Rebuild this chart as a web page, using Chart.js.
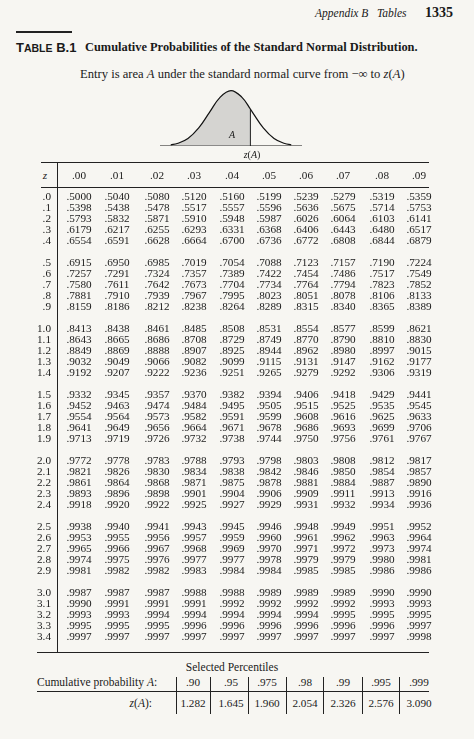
<!DOCTYPE html>
<html><head><meta charset="utf-8">
<script src="https://cdn.jsdelivr.net/npm/chart.js@4"></script>
<style>
body{margin:0;background:#f7f6f2;font-family:"Liberation Serif",serif;color:#1a1a1a;width:474px;height:739px;position:relative;overflow:hidden}
.t{position:absolute;white-space:nowrap;font-size:11.2px;line-height:13px}
.c{transform:translateX(-50%)}
.r{transform:translateX(-100%)}
.ln{position:absolute;background:#222}
#curve{position:absolute;left:160px;top:89px;width:142px;height:57px}
</style></head><body>
<div class="t" style="left:315px;top:7px;font-size:11.5px;font-style:italic">Appendix B &nbsp;&nbsp;Tables</div>
<div class="t" style="left:425px;top:6px;font-size:14px;font-weight:bold">1335</div>
<div class="ln" style="left:16px;top:31px;width:56px;height:2px"></div>
<div class="t" style="left:16px;top:41px;font-size:13px;font-weight:bold;font-family:'Liberation Sans',sans-serif">T<span style="font-size:10.5px">ABLE</span> B.1</div>
<div class="t" style="left:85px;top:41px;font-size:12.4px;font-weight:bold">Cumulative Probabilities of the Standard Normal Distribution.</div>
<div class="t" style="left:80px;top:68px;font-size:12.6px">Entry is area <i>A</i> under the standard normal curve from −∞ to <i>z</i>(<i>A</i>)</div>
<div id="curve"><canvas id="c"></canvas></div>
<div class="t c" style="left:232px;top:128px;font-size:10px;font-style:italic">A</div>
<div class="t c" style="left:252px;top:148px;font-size:10px"><i>z</i>(<i>A</i>)</div>
<div id="tbl"></div>
<script>
// standard normal table
const colLabels = ['.00','.01','.02','.03','.04','.05','.06','.07','.08','.09']
const zLabels = ['.0','.1','.2','.3','.4','.5','.6','.7','.8','.9','1.0','1.1','1.2','1.3','1.4','1.5','1.6','1.7','1.8','1.9','2.0','2.1','2.2','2.3','2.4','2.5','2.6','2.7','2.8','2.9','3.0','3.1','3.2','3.3','3.4']
const probRows = [
'5000 5040 5080 5120 5160 5199 5239 5279 5319 5359',
'5398 5438 5478 5517 5557 5596 5636 5675 5714 5753',
'5793 5832 5871 5910 5948 5987 6026 6064 6103 6141',
'6179 6217 6255 6293 6331 6368 6406 6443 6480 6517',
'6554 6591 6628 6664 6700 6736 6772 6808 6844 6879',
'6915 6950 6985 7019 7054 7088 7123 7157 7190 7224',
'7257 7291 7324 7357 7389 7422 7454 7486 7517 7549',
'7580 7611 7642 7673 7704 7734 7764 7794 7823 7852',
'7881 7910 7939 7967 7995 8023 8051 8078 8106 8133',
'8159 8186 8212 8238 8264 8289 8315 8340 8365 8389',
'8413 8438 8461 8485 8508 8531 8554 8577 8599 8621',
'8643 8665 8686 8708 8729 8749 8770 8790 8810 8830',
'8849 8869 8888 8907 8925 8944 8962 8980 8997 9015',
'9032 9049 9066 9082 9099 9115 9131 9147 9162 9177',
'9192 9207 9222 9236 9251 9265 9279 9292 9306 9319',
'9332 9345 9357 9370 9382 9394 9406 9418 9429 9441',
'9452 9463 9474 9484 9495 9505 9515 9525 9535 9545',
'9554 9564 9573 9582 9591 9599 9608 9616 9625 9633',
'9641 9649 9656 9664 9671 9678 9686 9693 9699 9706',
'9713 9719 9726 9732 9738 9744 9750 9756 9761 9767',
'9772 9778 9783 9788 9793 9798 9803 9808 9812 9817',
'9821 9826 9830 9834 9838 9842 9846 9850 9854 9857',
'9861 9864 9868 9871 9875 9878 9881 9884 9887 9890',
'9893 9896 9898 9901 9904 9906 9909 9911 9913 9916',
'9918 9920 9922 9925 9927 9929 9931 9932 9934 9936',
'9938 9940 9941 9943 9945 9946 9948 9949 9951 9952',
'9953 9955 9956 9957 9959 9960 9961 9962 9963 9964',
'9965 9966 9967 9968 9969 9970 9971 9972 9973 9974',
'9974 9975 9976 9977 9977 9978 9979 9979 9980 9981',
'9981 9982 9982 9983 9984 9984 9985 9985 9986 9986',
'9987 9987 9987 9988 9988 9989 9989 9989 9990 9990',
'9990 9991 9991 9991 9992 9992 9992 9992 9993 9993',
'9993 9993 9994 9994 9994 9994 9994 9995 9995 9995',
'9995 9995 9995 9996 9996 9996 9996 9996 9996 9997',
'9997 9997 9997 9997 9997 9997 9997 9997 9997 9998']
const pctProbs = ['.90','.95','.975','.98','.99','.995','.999']
const pctZ = ['1.282','1.645','1.960','2.054','2.326','2.576','3.090']

// curve shape
const curveX = [-2.8,-2.5,-2,-1.5,-1,-0.5,0,0.5,0.9,1,1.5,2,2.5,2.8]
const curveY = [0.008,0.018,0.054,0.13,0.242,0.352,0.399,0.352,0.266,0.242,0.13,0.054,0.018,0.008]
const zA = 0.9

const tbl = document.getElementById('tbl')
function put(txt, x, y, cls, extra){
  const d = document.createElement('div')
  d.className = 't '+(cls||'c'); d.style.left = x+'px'; d.style.top = (y-7)+'px'
  if(extra) d.style.cssText += extra
  d.innerHTML = txt; tbl.appendChild(d)
}
function line(x,y,w,h){
  const d = document.createElement('div')
  d.className='ln'; d.style.cssText+=`left:${x}px;top:${y}px;width:${w}px;height:${h}px`
  tbl.appendChild(d)
}
const colX = [79,117,157,194,232,269,306,343,382,419]
line(41,162,388,1.3); line(41,187,388,1); line(57,162,1,491); line(37,652,392,1.3)
put('<i>z</i>',45,176)
colLabels.forEach((c,i)=>put(c,colX[i],176))
zLabels.forEach((z,r)=>{
  const y = 197 + (r%5)*11.1 + Math.floor(r/5)*66
  put(z,51,y,'r')
  probRows[r].split(' ').forEach((v,i)=>put('.'+v,colX[i],y))
})

put('Selected Percentiles',232,668,'c','font-size:11.5px')
line(37,691,392,1)
const pX = [193,231,267,305,343,381,419]
put('Cumulative probability <i>A</i>:',37,683,'x','font-size:11.5px')
put('<i>z</i>(<i>A</i>):',152,704,'r','font-size:11.5px')
pctProbs.forEach((p,i)=>put(p,pX[i],683))
pctZ.forEach((p,i)=>put(p,pX[i],704))
;[176,210,248,286,323,362,399].forEach(x=>line(x,677,1,37))

new Chart(document.getElementById('c'),{
  type:'line',
  data:{datasets:[
    {data:curveX.map((x,i)=>({x,y:curveY[i]})),borderColor:'#111',borderWidth:1.2,pointRadius:0,tension:0.4,fill:false},
    {data:curveX.filter(x=>x<=zA).map((x,i)=>({x,y:curveY[i]})),borderColor:'rgba(0,0,0,0)',backgroundColor:'rgba(150,150,150,0.35)',pointRadius:0,tension:0.4,fill:'origin'},
    {data:[{x:zA,y:0},{x:zA,y:0.266}],borderColor:'#111',borderWidth:1,pointRadius:0},
    {data:[{x:-3.3,y:0},{x:3.3,y:0}],borderColor:'#111',borderWidth:1,pointRadius:0}
  ]},
  options:{responsive:true,maintainAspectRatio:false,animation:false,
    plugins:{legend:{display:false},tooltip:{enabled:false}},
    layout:{padding:0},
    scales:{x:{type:'linear',min:-3.3,max:3.3,display:false},y:{min:0,max:0.41,display:false}}}
})
</script>
</body></html>
